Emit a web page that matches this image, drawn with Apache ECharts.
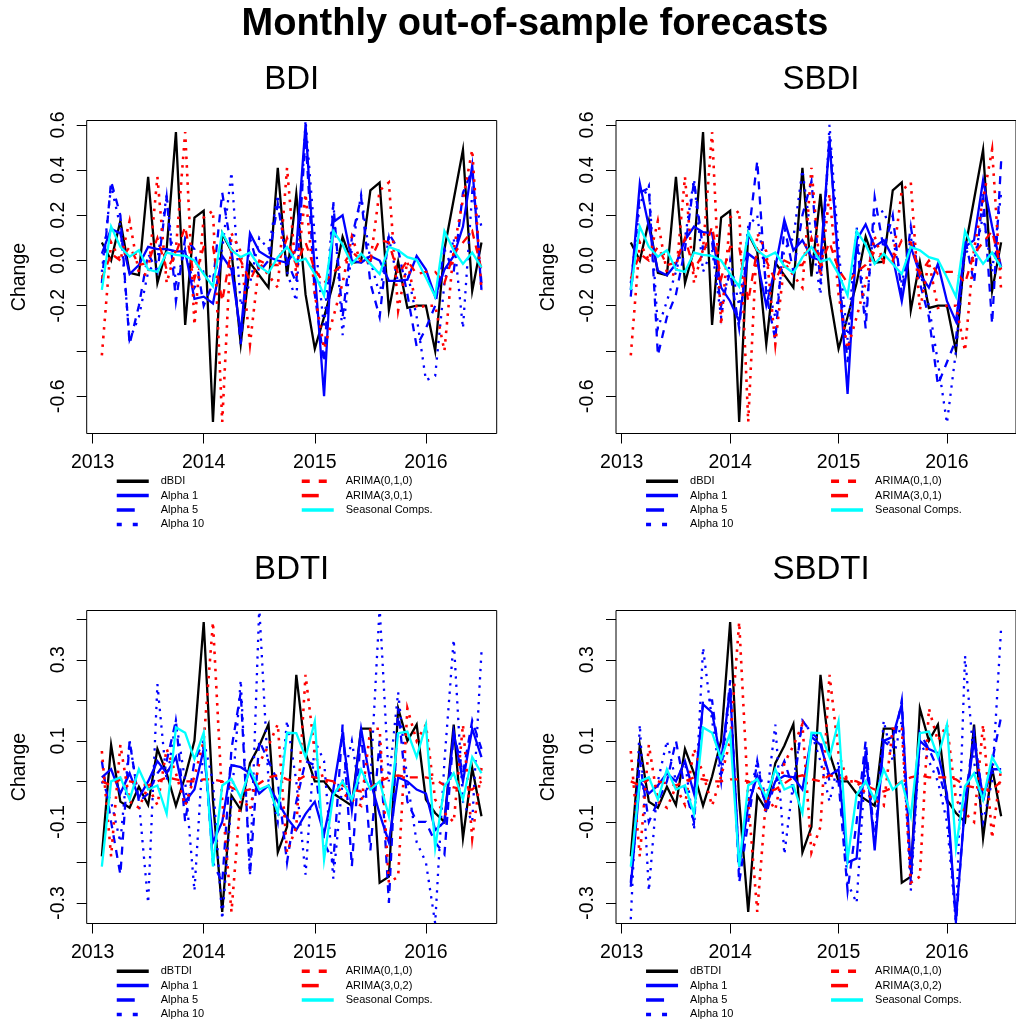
<!DOCTYPE html>
<html><head><meta charset="utf-8">
<script src="https://cdn.jsdelivr.net/npm/echarts@6/dist/echarts.min.js"></script>
<style>html,body{margin:0;padding:0;background:#fff}#c{width:1016px;height:1023px}</style>
</head><body><div id="c"></div>
<script>
const months = ['2013-02','2013-03','2013-04','2013-05','2013-06','2013-07','2013-08','2013-09','2013-10','2013-11','2013-12',
 '2014-01','2014-02','2014-03','2014-04','2014-05','2014-06','2014-07','2014-08','2014-09','2014-10','2014-11','2014-12',
 '2015-01','2015-02','2015-03','2015-04','2015-05','2015-06','2015-07','2015-08','2015-09','2015-10','2015-11','2015-12',
 '2016-01','2016-02','2016-03','2016-04','2016-05','2016-06','2016-07'];
const yearTicks = [2013, 2014, 2015, 2016];
const yTicksBDI = [-0.6, -0.4, -0.2, 0, 0.2, 0.4, 0.6];
const yLabelsBDI = [-0.6, -0.2, 0, 0.2, 0.4, 0.6];
const yTicksBDTI = [-0.3, -0.2, -0.1, 0, 0.1, 0.2, 0.3, 0.4];
const yLabelsBDTI = [-0.3, -0.1, 0.1, 0.3];

// ---- BDI / SBDI (top row) ----
const dBDI = [0.08, 0.0, 0.175, -0.055, -0.065, 0.37, -0.1, 0.05, 0.568, -0.285, 0.19, 0.22, -0.714, 0.12, 0.04, -0.37, -0.01, -0.065, -0.12, 0.41, -0.07, 0.295, -0.15, -0.39, -0.25, -0.1, 0.105, -0.01, -0.005, 0.31, 0.345, -0.22, -0.005, -0.21, -0.2, -0.2, -0.4, 0.05, 0.27, 0.49, -0.135, 0.08];
const arima010BDI = [-0.42, 0.08, 0.0, 0.175, -0.055, -0.065, 0.37, -0.1, 0.05, 0.568, -0.285, 0.19, 0.22, -0.714, 0.12, 0.04, -0.37, -0.01, -0.065, -0.12, 0.41, -0.07, 0.295, -0.15, -0.39, -0.25, -0.1, 0.105, -0.01, -0.005, 0.31, 0.345, -0.22, -0.005, -0.21, -0.2, -0.2, -0.4, 0.05, 0.27, 0.49, -0.135];
const arima301BDI = [-0.08, 0.03, 0.0, 0.06, -0.02, -0.01, 0.1, -0.04, 0.03, 0.15, -0.08, 0.06, 0.06, -0.18, 0.05, 0.0, -0.09, 0.0, -0.02, -0.02, 0.1, -0.02, 0.08, -0.04, -0.1, -0.05, -0.02, 0.04, 0.0, 0.0, 0.09, 0.08, -0.06, 0.0, -0.06, -0.05, -0.05, -0.1, 0.03, 0.08, 0.13, -0.04];
const seasBDI = [-0.13, 0.15, 0.06, 0.017, 0.045, -0.04, -0.05, 0.035, 0.025, 0.02, 0.0, -0.06, -0.115, 0.125, 0.045, 0.015, 0.035, -0.025, -0.055, 0.015, 0.06, -0.006, 0.008, -0.06, -0.155, 0.13, 0.07, -0.015, 0.03, -0.015, -0.06, 0.06, 0.045, 0.015, 0.003, -0.075, -0.16, 0.13, 0.045, -0.015, 0.035, -0.03];
const alpha1BDI = [0.03, 0.14, 0.12, -0.06, -0.02, 0.06, 0.05, 0.05, 0.04, 0.04, -0.17, -0.16, -0.19, 0.02, -0.04, -0.32, 0.12, 0.04, 0.015, 0.0, -0.01, 0.05, 0.6, -0.05, -0.6, 0.17, 0.2, 0.0, -0.01, 0.02, 0.0, -0.09, -0.09, -0.085, 0.02, -0.04, -0.16, -0.04, 0.02, 0.15, 0.42, -0.13];
const alpha5BDI = [-0.1, 0.35, 0.2, -0.37, -0.2, 0.03, -0.05, 0.28, -0.18, 0.1, 0.05, -0.2, -0.1, 0.3, 0.05, -0.37, 0.1, -0.05, 0.0, 0.25, 0.0, -0.1, 0.55, -0.15, -0.45, 0.25, -0.25, 0.1, 0.28, -0.1, -0.25, 0.12, 0.05, -0.15, -0.38, -0.3, -0.2, 0.05, -0.05, 0.3, 0.4, -0.1];
const alpha10BDI = [-0.05, 0.33, 0.15, -0.35, -0.25, -0.05, 0.0, 0.29, -0.1, 0.05, -0.12, -0.05, -0.08, 0.05, 0.39, -0.2, -0.1, 0.1, 0.05, 0.29, -0.05, -0.18, 0.62, 0.1, -0.3, 0.26, -0.33, 0.05, 0.29, 0.0, -0.15, 0.1, -0.1, -0.05, -0.25, -0.53, -0.51, -0.1, 0.1, -0.3, 0.3, 0.15];
const alpha1SBDI = [-0.13, 0.34, 0.15, -0.045, -0.065, -0.015, 0.09, 0.15, 0.125, 0.12, -0.12, -0.18, -0.27, 0.03, 0.0, -0.2, -0.03, 0.18, 0.045, 0.09, 0.015, 0.0, 0.53, -0.03, -0.59, 0.09, 0.16, 0.06, 0.09, 0.015, -0.18, 0.06, -0.06, -0.12, -0.015, -0.18, -0.27, 0.06, 0.09, 0.355, 0.15, -0.03];
const alpha5SBDI = [-0.16, 0.3, 0.32, -0.42, -0.25, -0.15, 0.05, 0.35, 0.05, 0.08, -0.2, -0.05, -0.3, 0.1, 0.44, -0.15, -0.35, 0.15, -0.05, 0.2, 0.35, -0.1, 0.55, -0.05, -0.45, 0.1, -0.3, 0.28, 0.05, 0.2, -0.15, 0.15, -0.1, -0.25, -0.55, -0.45, -0.35, 0.1, -0.1, 0.3, -0.28, 0.44];
const alpha10SBDI = [-0.1, 0.25, 0.33, -0.3, -0.18, -0.05, 0.1, 0.36, -0.05, 0.05, -0.25, 0.0, -0.2, 0.15, 0.2, -0.1, -0.25, 0.05, 0.1, 0.4, 0.1, -0.15, 0.6, 0.05, -0.35, 0.15, -0.25, 0.2, 0.22, 0.1, -0.1, 0.1, -0.05, -0.2, -0.45, -0.72, -0.4, 0.05, 0.0, 0.2, -0.05, 0.3];

// ---- BDTI / SBDTI (bottom row) ----
const dBTDI = [-0.185, 0.09, -0.05, -0.065, -0.013, -0.058, 0.08, 0.02, -0.06, 0.012, 0.1, 0.393, -0.047, -0.322, -0.035, -0.07, 0.045, 0.088, 0.141, -0.175, -0.112, 0.263, 0.07, 0.0, 0.0, -0.03, -0.045, -0.06, 0.13, 0.13, -0.25, -0.235, 0.18, 0.1, 0.14, -0.045, -0.078, -0.1, 0.14, -0.14, 0.033, -0.086];
const arima010BDTI = [0.075, -0.185, 0.09, -0.05, -0.065, -0.013, -0.058, 0.08, 0.02, -0.06, 0.012, 0.1, 0.393, -0.047, -0.322, -0.035, -0.07, 0.045, 0.088, 0.141, -0.175, -0.112, 0.263, 0.07, 0.0, 0.0, -0.03, -0.045, -0.06, 0.13, 0.13, -0.25, -0.235, 0.18, 0.1, 0.14, -0.045, -0.078, -0.1, 0.14, -0.14, 0.033];
const arima302BDTI = [0.0, -0.01, 0.005, 0.0, -0.005, -0.01, 0.0, 0.01, 0.005, 0.0, 0.0, 0.005, 0.005, 0.0, -0.015, -0.025, -0.02, -0.005, 0.01, 0.015, 0.005, 0.0, 0.015, 0.01, 0.005, 0.0, -0.01, -0.02, -0.025, -0.015, 0.0, 0.01, 0.015, 0.01, 0.01, 0.01, 0.005, -0.01, -0.015, -0.02, -0.02, 0.0];
const seasBDTI = [-0.21, 0.0, 0.01, -0.045, 0.03, -0.02, -0.01, -0.08, 0.133, 0.12, 0.055, 0.12, -0.21, -0.01, 0.006, -0.04, 0.03, -0.02, -0.01, -0.078, 0.12, 0.119, 0.06, 0.148, -0.193, -0.033, 0.0, -0.045, 0.029, -0.02, 0.0, -0.086, 0.119, 0.123, 0.06, 0.14, -0.164, -0.012, 0.02, -0.045, 0.06, 0.02];
const alpha1BDTI = [0.01, 0.03, -0.03, 0.02, -0.04, 0.0, 0.05, 0.02, 0.06, -0.05, -0.02, 0.08, -0.15, -0.1, 0.04, 0.035, 0.02, -0.03, -0.01, -0.05, -0.09, -0.12, -0.08, -0.05, -0.13, -0.02, 0.12, -0.07, 0.13, 0.0, -0.08, -0.15, 0.01, 0.0, -0.02, -0.03, -0.12, -0.1, 0.12, 0.0, 0.13, 0.06];
const alpha5BDTI = [0.05, -0.1, -0.23, 0.1, -0.05, -0.03, 0.02, 0.05, 0.15, -0.1, 0.05, 0.1, -0.2, -0.25, 0.08, 0.22, -0.23, 0.1, 0.05, 0.0, -0.2, -0.05, 0.05, 0.04, -0.15, -0.2, 0.14, -0.21, 0.125, -0.17, 0.1, -0.3, 0.18, -0.05, -0.1, -0.1, -0.15, -0.18, 0.12, 0.02, 0.15, 0.08];
const alpha10BDTI = [0.0, -0.05, -0.15, 0.1, -0.05, -0.3, 0.24, 0.0, 0.15, 0.0, -0.27, 0.1, 0.0, -0.34, -0.05, 0.25, -0.23, 0.43, 0.0, -0.1, 0.15, 0.0, -0.23, 0.1, 0.05, -0.24, 0.0, 0.1, -0.05, 0.0, 0.43, 0.0, 0.22, 0.0, -0.15, -0.2, -0.35, 0.05, 0.35, -0.05, -0.1, 0.32];
const alpha1SBDTI = [-0.26, 0.0, -0.03, -0.01, 0.02, 0.0, 0.05, -0.03, 0.19, 0.17, 0.05, 0.23, -0.21, -0.06, 0.014, -0.06, 0.0, 0.014, 0.01, -0.02, 0.11, 0.09, 0.014, 0.03, -0.2, -0.19, 0.075, -0.17, 0.1, 0.11, 0.19, -0.22, 0.1, 0.08, 0.07, -0.03, -0.34, -0.06, 0.1, -0.04, 0.03, 0.03];
const alpha5SBDTI = [-0.25, 0.05, -0.1, -0.05, 0.0, 0.1, -0.02, -0.1, 0.2, 0.2, 0.02, 0.25, -0.25, -0.1, 0.05, -0.08, 0.0, 0.05, -0.02, 0.15, 0.12, 0.1, 0.0, 0.0, -0.27, -0.1, 0.1, -0.15, 0.1, 0.08, 0.2, -0.25, 0.12, 0.08, 0.03, -0.05, -0.35, -0.05, 0.12, -0.05, 0.05, 0.16];
const alpha10SBDTI = [-0.34, 0.14, -0.27, 0.0, 0.1, 0.0, 0.05, -0.12, 0.33, 0.15, 0.0, 0.23, -0.22, -0.05, 0.05, -0.05, 0.14, -0.18, 0.0, 0.15, 0.12, 0.05, -0.05, 0.05, -0.25, -0.3, 0.05, -0.15, 0.15, 0.05, 0.15, -0.27, 0.1, 0.05, 0.0, -0.1, -0.35, 0.31, 0.05, -0.1, 0.0, 0.38];

// ---------------- build ----------------
const FONT = '"Liberation Sans", Arial, Helvetica, sans-serif';
const toYear = s => { const [y, m] = s.split('-').map(Number); return y + (m - 1) / 12; };
const xs = months.map(toYear);
const pts = arr => arr.map((v, i) => [xs[i], v]);

const panels = [
  {title: 'BDI',   ox: 0,     oy: 0,   obsName: 'dBDI',  arimaName: 'ARIMA(3,0,1)', obs: dBDI,  rw: arima010BDI,  ar: arima301BDI,  seas: seasBDI,  a1: alpha1BDI,   a5: alpha5BDI,   a10: alpha10BDI,   ymin: -0.7653, ymax: 0.6193, ticks: yTicksBDI,  labels: yLabelsBDI},
  {title: 'SBDI',  ox: 529.3, oy: 0,   obsName: 'dBDI',  arimaName: 'ARIMA(3,0,1)', obs: dBDI,  rw: arima010BDI,  ar: arima301BDI,  seas: seasBDI,  a1: alpha1SBDI,  a5: alpha5SBDI,  a10: alpha10SBDI,  ymin: -0.7653, ymax: 0.6193, ticks: yTicksBDI,  labels: yLabelsBDI},
  {title: 'BDTI',  ox: 0,     oy: 490, obsName: 'dBTDI', arimaName: 'ARIMA(3,0,2)', obs: dBTDI, rw: arima010BDTI, ar: arima302BDTI, seas: seasBDTI, a1: alpha1BDTI,  a5: alpha5BDTI,  a10: alpha10BDTI,  ymin: -0.3506, ymax: 0.4216, ticks: yTicksBDTI, labels: yLabelsBDTI},
  {title: 'SBDTI', ox: 529.3, oy: 490, obsName: 'dBTDI', arimaName: 'ARIMA(3,0,2)', obs: dBTDI, rw: arima010BDTI, ar: arima302BDTI, seas: seasBDTI, a1: alpha1SBDTI, a5: alpha5SBDTI, a10: alpha10SBDTI, ymin: -0.3506, ymax: 0.4216, ticks: yTicksBDTI, labels: yLabelsBDTI}
];

const BOX = {left: 86.7, top: 120.5, width: 410, height: 313};
const mctx = document.createElement('canvas').getContext('2d');
const textW = (t, f) => { mctx.font = f; return mctx.measureText(t).width; };

const grid = [], xAxis = [], yAxis = [], series = [], legend = [];
const titles = [];
const mainTitle = 'Monthly out-of-sample forecasts';
const mainSize = 38;
titles.push({text: mainTitle, left: 535 - textW(mainTitle, 'bold ' + mainSize + 'px ' + FONT) / 2, top: 25 - mainSize / 2, padding: 0,
  textStyle: {fontFamily: FONT, fontSize: mainSize, fontWeight: 'bold', color: '#000', lineHeight: mainSize}});

const tickLab = {fontFamily: FONT, fontSize: 19.5, color: '#000'};
const lineDefs = [
  {key: 'obs',  color: '#000000', width: 2.3, type: 'solid'},
  {key: 'a1',   color: '#0000FF', width: 2.3, type: 'solid'},
  {key: 'a5',   color: '#0000FF', width: 2.3, type: [8, 7]},
  {key: 'a10',  color: '#0000FF', width: 2.3, type: [2.3, 6]},
  {key: 'rw',   color: '#FF0000', width: 2.6, type: [2.6, 6]},
  {key: 'ar',   color: '#FF0000', width: 2.3, type: [8, 7]},
  {key: 'seas', color: '#00FFFF', width: 2.3, type: 'solid'}
];

panels.forEach((p, g) => {
  const left = BOX.left + p.ox, top = BOX.top + p.oy;
  grid.push({left, top, width: BOX.width, height: BOX.height, show: true, borderColor: '#000', borderWidth: 1, backgroundColor: 'transparent', containLabel: false});
  xAxis.push({type: 'value', gridIndex: g, min: 2012.947, max: 2016.637,
    axisLine: {show: false, onZero: false}, splitLine: {show: false},
    axisTick: {show: true, length: 10, lineStyle: {color: '#000', width: 1}, customValues: yearTicks},
    axisLabel: {show: true, margin: 19, customValues: yearTicks, formatter: v => String(Math.round(v)), ...tickLab}});
  yAxis.push({type: 'value', gridIndex: g, min: p.ymin, max: p.ymax,
    name: 'Change', nameLocation: 'middle', nameRotate: 90, nameGap: 57,
    nameTextStyle: {fontFamily: FONT, fontSize: 19.5, color: '#000'},
    axisLine: {show: false, onZero: false}, splitLine: {show: false},
    axisTick: {show: true, length: 10, lineStyle: {color: '#000', width: 1}, customValues: p.ticks},
    axisLabel: {show: true, rotate: 90, margin: 18.5, customValues: p.labels, formatter: v => (Math.abs(v) < 1e-9 ? 0 : v).toFixed(1), ...tickLab}});
  const names = {obs: p.obsName, a1: 'Alpha 1', a5: 'Alpha 5', a10: 'Alpha 10', rw: 'ARIMA(0,1,0)', ar: p.arimaName, seas: 'Seasonal Comps.'};
  lineDefs.forEach(d => {
    series.push({type: 'line', name: names[d.key], xAxisIndex: g, yAxisIndex: g, data: pts(p[d.key]),
      symbol: 'none', showSymbol: false, clip: true, silent: true,
      itemStyle: {color: d.color},
      lineStyle: {color: d.color, width: d.width, type: d.type, cap: 'butt', join: 'miter'}});
  });
  const ts = 33;
  titles.push({text: p.title, left: left + BOX.width / 2 - textW(p.title, ts + 'px ' + FONT) / 2, top: 80 + p.oy - ts / 2, padding: 0,
    textStyle: {fontFamily: FONT, fontSize: ts, fontWeight: 'normal', color: '#000', lineHeight: ts}});
  const legCommon = {orient: 'vertical', padding: 0, itemWidth: 32, itemHeight: 10, itemGap: 3.4, selectedMode: false,
    itemStyle: {opacity: 0, borderWidth: 0},
    lineStyle: {width: 3.5}, textStyle: {fontFamily: FONT, fontSize: 11, color: '#000', lineHeight: 10, padding: [0, 0, 0, 7]}};
  legend.push({...legCommon, left: 115 + p.ox, top: 475.7 + p.oy, data: [
    {name: p.obsName, lineStyle: {type: 'solid'}},
    {name: 'Alpha 1', lineStyle: {type: 'solid'}},
    {name: 'Alpha 5', lineStyle: {type: [18, 20]}},
    {name: 'Alpha 10', lineStyle: {type: [5, 11]}}]});
  legend.push({...legCommon, left: 300 + p.ox, top: 475.7 + p.oy, data: [
    {name: 'ARIMA(0,1,0)', lineStyle: {type: [8, 9]}},
    {name: p.arimaName, lineStyle: {type: [17, 20]}},
    {name: 'Seasonal Comps.', lineStyle: {type: 'solid'}}]});
});

const chart = echarts.init(document.getElementById('c'), null, {renderer: 'canvas'});
chart.setOption({animation: false, backgroundColor: '#fff', title: titles, grid, xAxis, yAxis, series, legend});
</script>
</body></html>
